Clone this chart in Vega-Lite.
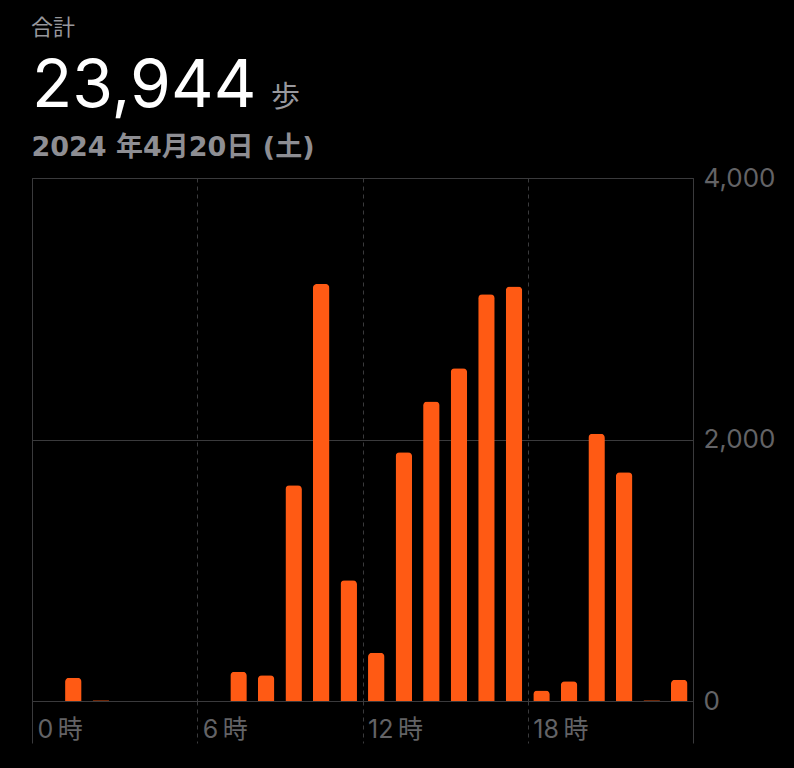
{
  "$schema": "https://vega.github.io/schema/vega-lite/v6.json",
  "background": "#000000",
  "padding": {"top": 17, "left": 31, "right": 30, "bottom": 30},
  "config": {
    "view": {"stroke": "#3a3a3c", "strokeWidth": 1},
    "font": "Inter, 'Noto Sans CJK JP'"
  },
  "title": {
    "text": "合計",
    "anchor": "start",
    "fontSize": 22,
    "fontWeight": "normal",
    "color": "#98989d",
    "font": "Inter, 'Noto Sans CJK JP'",
    "offset": 14
  },
  "spacing": -4,
  "vconcat": [
    {
      "spacing": 14,
      "hconcat": [
        {
          "width": 1,
          "height": 1,
          "view": {"stroke": null},
          "data": {"values": []},
          "mark": "point",
          "title": {
            "text": "23,944",
            "anchor": "start",
            "baseline": "alphabetic",
            "fontSize": 66,
            "fontWeight": "normal",
            "color": "#ffffff",
            "font": "Inter, 'Noto Sans CJK JP'",
            "offset": -37
          }
        },
        {
          "width": 1,
          "height": 1,
          "view": {"stroke": null},
          "data": {"values": []},
          "mark": "point",
          "title": {
            "text": "歩",
            "anchor": "start",
            "baseline": "alphabetic",
            "fontSize": 29,
            "fontWeight": "normal",
            "color": "#98989d",
            "font": "Inter, 'Noto Sans CJK JP'",
            "offset": 0
          }
        }
      ]
    },
    {
      "width": 661,
      "height": 523,
      "title": {
        "text": "2024 年4月20日 (土)",
        "anchor": "start",
        "fontSize": 27,
        "fontWeight": "bold",
        "color": "#8e8e93",
        "font": "'DejaVu Sans', 'Noto Sans CJK JP'",
        "offset": 3
      },
      "data": {
        "values": [
          {"hour": 0, "steps": 0},
          {"hour": 1, "steps": 177},
          {"hour": 2, "steps": 5},
          {"hour": 3, "steps": 0},
          {"hour": 4, "steps": 0},
          {"hour": 5, "steps": 0},
          {"hour": 6, "steps": 0},
          {"hour": 7, "steps": 223},
          {"hour": 8, "steps": 197},
          {"hour": 9, "steps": 1650},
          {"hour": 10, "steps": 3190},
          {"hour": 11, "steps": 924},
          {"hour": 12, "steps": 369},
          {"hour": 13, "steps": 1903},
          {"hour": 14, "steps": 2290},
          {"hour": 15, "steps": 2545},
          {"hour": 16, "steps": 3110},
          {"hour": 17, "steps": 3170},
          {"hour": 18, "steps": 80},
          {"hour": 19, "steps": 151},
          {"hour": 20, "steps": 2044},
          {"hour": 21, "steps": 1749},
          {"hour": 22, "steps": 5},
          {"hour": 23, "steps": 162}
        ]
      },
      "mark": {
        "type": "bar",
        "width": 16.5,
        "xOffset": 13.77,
        "color": "#ff5a14",
        "cornerRadiusTopLeft": 4,
        "cornerRadiusTopRight": 4
      },
      "encoding": {
        "x": {
          "field": "hour",
          "type": "quantitative",
          "scale": {"domain": [0, 24], "nice": false, "zero": false, "padding": 0},
          "axis": {
            "values": [0, 6, 12, 18, 24],
            "title": null,
            "domain": false,
            "grid": true,
            "gridColor": "#3a3a3c",
            "gridDash": {"condition": {"test": "datum.value > 0 && datum.value < 24", "value": [4, 4]}, "value": []},
            "ticks": true,
            "tickSize": 42,
            "tickColor": "#3a3a3c",
            "tickDash": {"condition": {"test": "datum.value > 0 && datum.value < 24", "value": [4, 4]}, "value": []},
            "labelExpr": "datum.value < 24 ? datum.value + '\u2009時' : ''",
            "labelAlign": "left",
            "labelBaseline": "middle",
            "labelOffset": 5,
            "labelPadding": -14,
            "labelFontSize": 25,
            "labelColor": "#636366",
            "labelFont": "Inter, 'Noto Sans CJK JP'",
            "labelFlush": false,
            "labelBound": false,
            "labelOverlap": false
          }
        },
        "y": {
          "field": "steps",
          "type": "quantitative",
          "scale": {"domain": [0, 4000], "nice": false},
          "axis": {
            "orient": "right",
            "values": [0, 2000, 4000],
            "title": null,
            "domain": false,
            "ticks": false,
            "grid": true,
            "gridColor": "#3a3a3c",
            "labelExpr": "format(datum.value, ',d')",
            "labelAlign": "left",
            "labelBaseline": "middle",
            "labelPadding": 10,
            "labelFontSize": 26,
            "labelColor": "#636366",
            "labelFont": "Inter, 'Noto Sans CJK JP'",
            "labelFlush": false,
            "labelBound": false,
            "labelOverlap": false
          }
        }
      }
    }
  ]
}
